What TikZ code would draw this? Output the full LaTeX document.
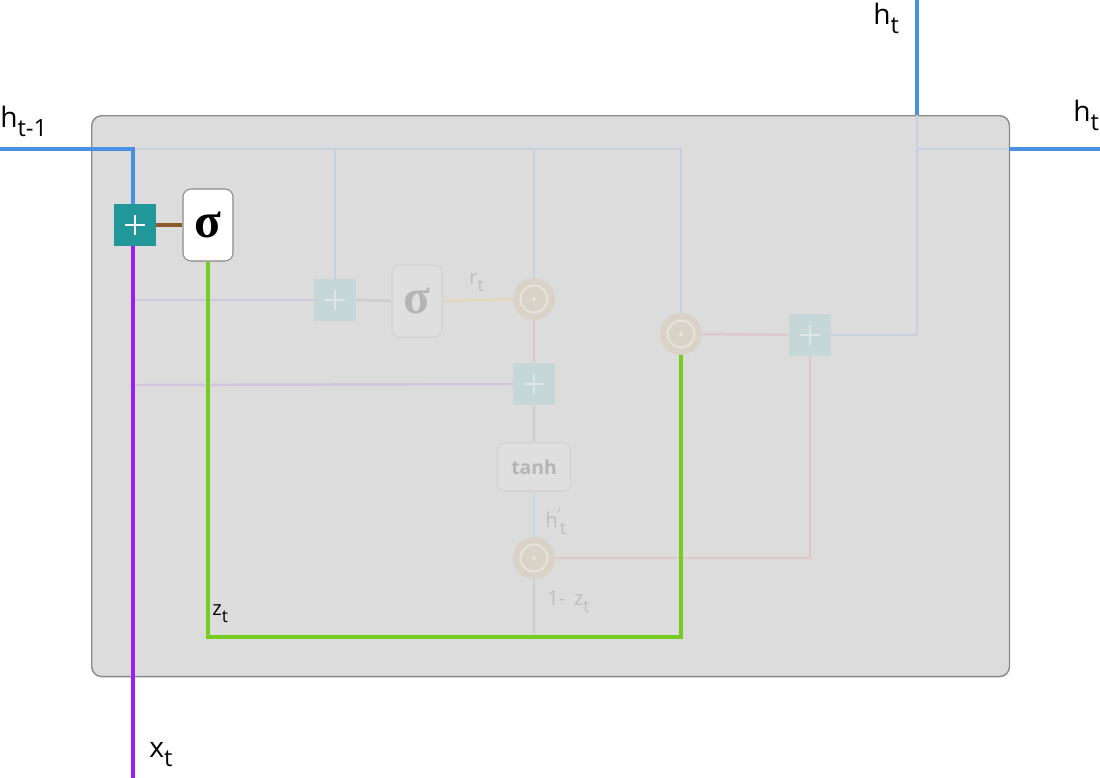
\documentclass[tikz,border=0pt]{standalone}
\usepackage{fontspec}
\setmainfont{Open Sans}
\newfontfamily\sigfont{Liberation Serif}
\pgfdeclarelayer{boxlayer}
\pgfdeclarelayer{linelayer}
\pgfsetlayers{boxlayer,linelayer,main}
\definecolor{cellbg}{HTML}{DCDCDC}
\definecolor{cellborder}{HTML}{8A8A8A}
\definecolor{mblue}{HTML}{4A90E2}
\definecolor{fblue}{HTML}{C8D1DE}
\definecolor{mpurple}{HTML}{9B1FF0}
\definecolor{fpurple}{HTML}{D4C5DF}
\definecolor{mgreen}{HTML}{76CC20}
\definecolor{mbrown}{HTML}{8B5A2B}
\definecolor{mteal}{HTML}{229799}
\definecolor{fteal}{HTML}{C5D8D7}
\definecolor{fplustext}{HTML}{DDE6E5}
\definecolor{forange}{HTML}{E2D8BC}
\definecolor{fpink}{HTML}{DEC8CB}
\definecolor{fcyan}{HTML}{C3DEDF}
\definecolor{fgray}{HTML}{CDCDCD}
\definecolor{odotc}{HTML}{D9D3C7}
\definecolor{ringc}{HTML}{E6E3DC}
\definecolor{sigborder}{HTML}{8A8A8A}
\definecolor{fsigfill}{HTML}{DFDFDF}
\definecolor{fsigborder}{HTML}{D2D2D2}
\definecolor{fsigtext}{HTML}{B5B5B5}
\definecolor{flabel}{HTML}{BEBEBE}
\newcommand{\msub}[1]{\raisebox{-5.5pt}{\fontsize{13.5}{13.5}\selectfont #1}}
\newcommand{\isub}[1]{\raisebox{-4pt}{\fontsize{10}{10}\selectfont #1}}
\tikzset{
  plusbox/.style={rectangle, minimum size=0.84cm, inner sep=0pt, fill=mteal,
    path picture={
      \draw[white, line width=1.6pt] ([xshift=-0.2cm]path picture bounding box.center) -- ++(0.4cm,0pt);
      \draw[white, line width=1.6pt] ([yshift=-0.2cm]path picture bounding box.center) -- ++(0pt,0.4cm);}},
  fplusbox/.style={rectangle, minimum size=0.84cm, inner sep=0pt, fill=fteal,
    path picture={
      \draw[fplustext, line width=1.4pt] ([xshift=-0.2cm]path picture bounding box.center) -- ++(0.4cm,0pt);
      \draw[fplustext, line width=1.4pt] ([yshift=-0.2cm]path picture bounding box.center) -- ++(0pt,0.4cm);}},
  sigbox/.style={rectangle, rounded corners=0.16cm, minimum width=1cm, minimum height=1.44cm,
    draw=sigborder, fill=white, line width=0.6pt, inner sep=0pt,
    font=\fontsize{28}{28}\sigfont\bfseries},
  fsigbox/.style={sigbox, fill=fsigfill, draw=fsigborder, text=fsigtext},
  odotnode/.style={circle, minimum size=0.84cm, inner sep=0pt, fill=odotc,
    path picture={
      \draw[ringc, line width=1.1pt] (path picture bounding box.center) circle (0.27cm);
      \fill[ringc] (path picture bounding box.center) circle (0.04cm);}},
  tanhbox/.style={rectangle, rounded corners=0.14cm, minimum width=1.46cm, minimum height=0.96cm,
    draw=fsigborder, fill=fsigfill, line width=0.6pt, inner sep=0pt, text=fsigtext,
    font=\fontsize{11}{11}\selectfont\bfseries},
  mainline/.style={line width=2pt},
  fline/.style={line width=1.4pt},
  lbl/.style={inner sep=0pt, anchor=base west, font=\fontsize{16}{16}\selectfont},
  ilbl/.style={inner sep=0pt, anchor=base west, font=\fontsize{11.5}{11.5}\selectfont, text=flabel},
}
\begin{document}
\begin{tikzpicture}[x=0.02cm,y=-0.02cm]
\useasboundingbox (0,0) rectangle (1100,778);
\begin{pgfonlayer}{boxlayer}
\node[draw=cellborder, fill=cellbg, line width=0.8pt, rounded corners=0.2cm,
      minimum width=18.36cm, minimum height=11.22cm, anchor=north west, inner sep=0pt] (cell) at (91,115) {};
\end{pgfonlayer}
% nodes
\node[plusbox] (plusA) at (135,225) {};
\node[sigbox] (sigA) at (208,225) {σ};
\node[fplusbox] (plus2) at (335,300) {};
\node[fsigbox] (sig2) at (417,301) {σ};
\node[odotnode] (odot1) at (534,299) {};
\node[fplusbox] (plus3) at (534,384) {};
\node[tanhbox] (tanh) at (534,467) {tanh};
\node[odotnode] (odot3) at (534,558) {};
\node[odotnode] (odot2) at (681,334) {};
\node[fplusbox] (plus4) at (810,335) {};
% coordinates
\coordinate (hin) at (0,149);
\coordinate (topL) at (133,149);
\coordinate (topR) at (681,149);
\coordinate (hup) at (917,0);
\coordinate (hbox) at (917,115);
\coordinate (hcorner) at (917,332);
\coordinate (hsplit) at (917,149);
\coordinate (hedge) at (1009,149);
\coordinate (hout) at (1100,149);
\coordinate (xin) at (133,778);
\coordinate (pur1) at (133,300);
\coordinate (pur2) at (133,385);
\coordinate (g1) at (208,637);
\coordinate (g2) at (681,637);
\coordinate (gz) at (534,637);
\coordinate (pk) at (810,558);
\begin{pgfonlayer}{linelayer}
% faded lines
\draw[fline, fblue] (topL) -- (topR) -- (odot2.north);
\draw[fline, fblue] (plus2.north |- topL) -- (plus2.north);
\draw[fline, fblue] (odot1.north |- topL) -- (odot1.north);
\draw[fline, fblue] (plus4.east) -- (plus4.east -| hcorner) -- (hbox);
\draw[fline, fblue] (hsplit) -- (hedge);
\draw[fline, fpurple] (pur1) -- (plus2.west);
\draw[fline, fpurple] (pur2) -- (plus3.west);
\draw[fline, fgray] (plus2.east) -- (sig2.west);
\draw[fline, forange] (sig2.east) -- (odot1.west);
\draw[fline, fpink] (odot1.south) -- (plus3.north);
\draw[fline, fgray] (plus3.south) -- (tanh.north);
\draw[fline, fcyan] (tanh.south) -- (odot3.north);
\draw[fline, fgray] (odot3.south) -- (gz);
\draw[fline, fpink] (odot3.east) -- (pk) -- (plus4.south);
\draw[fline, fpink] (odot2.east) -- (plus4.west);
% main lines
\draw[mainline, mblue] (hin) -- (topL) -- (plusA.north -| topL);
\draw[mainline, mblue] (hbox) -- (hup);
\draw[mainline, mblue] (hedge) -- (hout);
\draw[mainline, mpurple] (plusA.south -| xin) -- (xin);
\draw[mainline, mbrown] (plusA.east) -- (sigA.west);
\draw[mainline, mgreen] (sigA.south) -- (g1) -- (g2) -- (odot2.south);
\end{pgfonlayer}
% labels
\node[lbl] (lhin) at (0,127) {h\msub{t-1}};
\node[lbl] (lhup) at (873,24) {h\msub{t}};
\node[lbl] (lhout) at (1073,121) {h\msub{t}};
\node[lbl] (lxt) at (149,757) {x\msub{t}};
\node[ilbl, text=black] (lzt) at (212,615) {z\isub{t}};
\node[ilbl] (lrt) at (469,284) {r\isub{t}};
\node[ilbl] (lht) at (545,527) {h\raisebox{5pt}{\fontsize{8}{8}\selectfont `}\isub{t}};
\node[ilbl] (lzz) at (547,605) {1- \,z\isub{t}};
\end{tikzpicture}
\end{document}
